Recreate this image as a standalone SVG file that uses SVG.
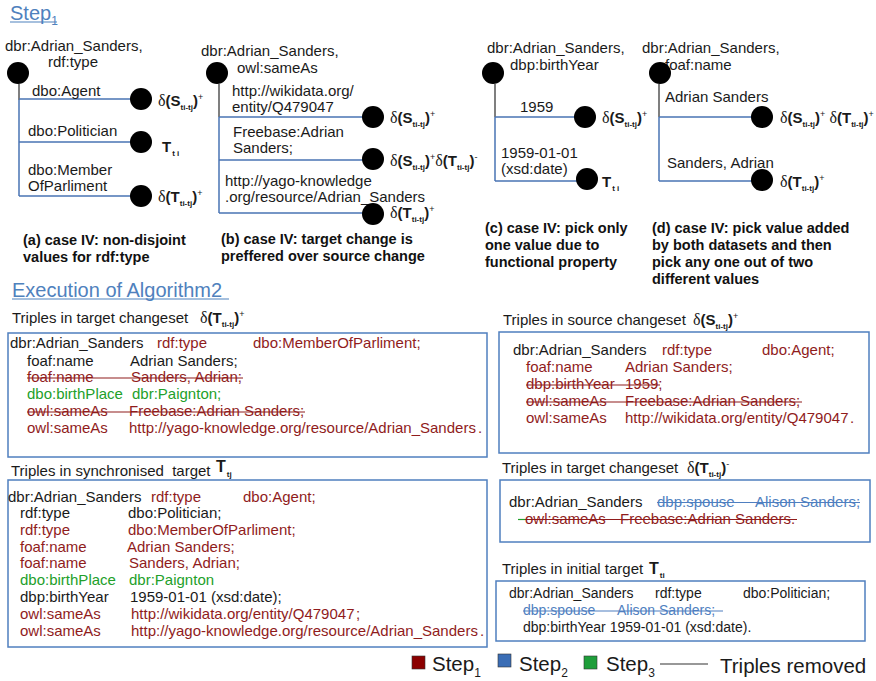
<svg xmlns="http://www.w3.org/2000/svg" width="876" height="681" viewBox="0 0 876 681">
<style>
text{font-family:"Liberation Sans",Arial,sans-serif;font-size:15px;fill:#1a1a1a}
.t14{font-size:14px}
.cap{font-weight:bold;font-size:14.5px;fill:#111}
.hd{fill:#4f81bd;font-size:20px}
.dg{font-family:"Liberation Serif","Times New Roman",serif;font-size:16px;font-weight:normal}
.b{font-weight:bold}
.sb{font-weight:bold;font-size:8px}
.sp{font-size:9px}
.r{fill:#901c1c}
.g{fill:#22a02a}
.bl{fill:#4f7fc0}
.box{fill:none;stroke:#4f7fbf;stroke-width:1.5}
.br{stroke:#4a74b4;stroke-width:1.5;fill:none}
.stem{stroke:#555;stroke-width:1.5;fill:none}
.dot{fill:#000}
.sr{stroke:#901c1c;stroke-width:1.2}
.sbl{stroke:#4f7fc0;stroke-width:1.2}
.leg{font-size:20.5px}
</style>

<!-- Titles -->
<g id="title-step1">
<text class="hd" x="10" y="20">Step<tspan font-size="12" dy="5">1</tspan></text>
<line x1="10" y1="22" x2="57" y2="22" stroke="#4f81bd" stroke-width="1.2"/>
</g>
<g id="title-exec">
<text class="hd" x="12" y="297">Execution of Algorithm2</text>
<line x1="12" y1="299" x2="229" y2="299" stroke="#4f81bd" stroke-width="1.2"/>
</g>

<!-- Connectors -->
<g id="connectors">
<path class="stem" d="M19,84 V100"/>
<path class="br" d="M19,100 V196 M19,99 H131 M19,142 H131 M19,196 H131"/>
<path class="stem" d="M219,84 V117"/>
<path class="br" d="M219,117 V213 M219,117 H363 M219,160 H363 M219,213 H363"/>
<path class="stem" d="M495,84 V117"/>
<path class="br" d="M495,117 V181 M495,117 H575 M495,181 H577"/>
<path class="stem" d="M659,84 V117"/>
<path class="br" d="M659,117 V181 M659,117 H752 M659,181 H752"/>
</g>

<!-- (a) -->
<g id="tree-a">
<text x="5" y="51">dbr:Adrian_Sanders,</text>
<text x="48" y="67">rdf:type</text>
<circle class="dot" cx="18" cy="73" r="11"/>
<text x="32" y="96">dbo:Agent</text>
<text x="28" y="136">dbo:Politician</text>
<text x="28" y="175">dbo:Member</text>
<text x="28" y="191">OfParliment</text>
</g>
<g id="a-leaf1"><circle class="dot" cx="141" cy="99" r="11"/>
<text x="158" y="106"><tspan class="dg">δ</tspan><tspan class="b">(S</tspan><tspan class="sb" dy="4">ti-tj</tspan><tspan class="b" dy="-4">)</tspan><tspan class="sp" dy="-6">+</tspan></text></g>
<g id="a-leaf2"><circle class="dot" cx="141" cy="142" r="11"/>
<text x="162" y="152"><tspan class="b">T</tspan><tspan class="sb" dy="4" dx="1">t i</tspan></text></g>
<g id="a-leaf3"><circle class="dot" cx="141" cy="196" r="11"/>
<text x="158" y="202"><tspan class="dg">δ</tspan><tspan class="b">(T</tspan><tspan class="sb" dy="4">ti-tj</tspan><tspan class="b" dy="-4">)</tspan><tspan class="sp" dy="-6">+</tspan></text></g>
<g id="caption-a">
<text class="cap" x="23" y="245">(a) case IV: non-disjoint</text>
<text class="cap" x="23" y="262">values for rdf:type</text>
</g>

<!-- (b) -->
<g id="tree-b">
<text x="201" y="56">dbr:Adrian_Sanders,</text>
<text x="237" y="73">owl:sameAs</text>
<circle class="dot" cx="217" cy="73" r="11"/>
<text x="232" y="96">http://wikidata.org/</text>
<text x="232" y="112">entity/Q479047</text>
<text x="233" y="137">Freebase:Adrian</text>
<text x="233" y="153">Sanders;</text>
<text x="225" y="186">http://yago-knowledge</text>
<text x="225" y="202">.org/resource/Adrian_Sanders</text>
</g>
<g id="b-leaf1"><circle class="dot" cx="373" cy="117" r="11"/>
<text x="390" y="123"><tspan class="dg">δ</tspan><tspan class="b">(S</tspan><tspan class="sb" dy="4">ti-tj</tspan><tspan class="b" dy="-4">)</tspan><tspan class="sp" dy="-6">+</tspan></text></g>
<g id="b-leaf2"><circle class="dot" cx="373" cy="159" r="11"/>
<text x="390" y="166"><tspan class="dg">δ</tspan><tspan class="b">(S</tspan><tspan class="sb" dy="4">ti-tj</tspan><tspan class="b" dy="-4">)</tspan><tspan class="sp" dy="-6">+</tspan><tspan class="dg" dy="6">δ</tspan><tspan class="b">(T</tspan><tspan class="sb" dy="4">ti-tj</tspan><tspan class="b" dy="-4">)</tspan><tspan class="sp" dy="-6">-</tspan></text></g>
<g id="b-leaf3"><circle class="dot" cx="373" cy="214" r="11"/>
<text x="390" y="218"><tspan class="dg">δ</tspan><tspan class="b">(T</tspan><tspan class="sb" dy="4">ti-tj</tspan><tspan class="b" dy="-4">)</tspan><tspan class="sp" dy="-6">+</tspan></text></g>
<g id="caption-b">
<text class="cap" x="221" y="244">(b) case IV: target change is</text>
<text class="cap" x="221" y="261">preffered over source change</text>
</g>

<!-- (c) -->
<g id="tree-c">
<text x="487" y="53">dbr:Adrian_Sanders,</text>
<text x="510" y="70">dbp:birthYear</text>
<circle class="dot" cx="493" cy="73" r="11"/>
<text x="520" y="112">1959</text>
<text x="501" y="158">1959-01-01</text>
<text x="501" y="174">(xsd:date)</text>
</g>
<g id="c-leaf1"><circle class="dot" cx="585" cy="117" r="11"/>
<text x="602" y="123"><tspan class="dg">δ</tspan><tspan class="b">(S</tspan><tspan class="sb" dy="4">ti-tj</tspan><tspan class="b" dy="-4">)</tspan><tspan class="sp" dy="-6">+</tspan></text></g>
<g id="c-leaf2"><circle class="dot" cx="587" cy="179" r="11"/>
<text x="602" y="187"><tspan class="b">T</tspan><tspan class="sb" dy="4" dx="1">t i</tspan></text></g>
<g id="caption-c">
<text class="cap" x="485" y="233">(c) case IV: pick only</text>
<text class="cap" x="485" y="250">one value due to</text>
<text class="cap" x="485" y="267">functional property</text>
</g>

<!-- (d) -->
<g id="tree-d">
<text x="642" y="53">dbr:Adrian_Sanders,</text>
<text x="665" y="70">foaf:name</text>
<circle class="dot" cx="660" cy="73" r="11"/>
<text x="665" y="102">Adrian Sanders</text>
<text x="667" y="168">Sanders, Adrian</text>
</g>
<g id="d-leaf1"><circle class="dot" cx="762" cy="117" r="11"/>
<text x="780" y="123"><tspan class="dg">δ</tspan><tspan class="b">(S</tspan><tspan class="sb" dy="4">ti-tj</tspan><tspan class="b" dy="-4">)</tspan><tspan class="sp" dy="-6">+</tspan><tspan dy="6"> </tspan><tspan class="dg">δ</tspan><tspan class="b">(T</tspan><tspan class="sb" dy="4">ti-tj</tspan><tspan class="b" dy="-4">)</tspan><tspan class="sp" dy="-6">+</tspan></text></g>
<g id="d-leaf2"><circle class="dot" cx="762" cy="180" r="11"/>
<text x="780" y="187"><tspan class="dg">δ</tspan><tspan class="b">(T</tspan><tspan class="sb" dy="4">ti-tj</tspan><tspan class="b" dy="-4">)</tspan><tspan class="sp" dy="-6">+</tspan></text></g>
<g id="caption-d">
<text class="cap" x="652" y="233">(d) case IV: pick value added</text>
<text class="cap" x="652" y="250">by both datasets and then</text>
<text class="cap" x="652" y="267">pick any one out of two</text>
<text class="cap" x="652" y="284">different values</text>
</g>

<!-- Box: target changeset + -->
<g id="box-target-plus">
<text x="12" y="323">Triples in target changeset</text>
<text x="200" y="323"><tspan class="dg">δ</tspan><tspan class="b">(T</tspan><tspan class="sb" dy="4">ti-tj</tspan><tspan class="b" dy="-4">)</tspan><tspan class="sp" dy="-6">+</tspan></text>
<rect class="box" x="8" y="333" width="479" height="124"/>
<text x="10" y="348">dbr:Adrian_Sanders</text><text class="r" x="157" y="348">rdf:type</text><text class="r" x="253" y="348">dbo:MemberOfParliment;</text>
<text x="27" y="366">foaf:name</text><text x="130" y="366">Adrian Sanders;</text>
<text class="r" x="27" y="382">foaf:name</text><text class="r" x="131" y="382">Sanders, Adrian;</text>
<line class="sr" x1="27" y1="378" x2="243" y2="378"/>
<text class="g" x="27" y="399">dbo:birthPlace</text><text class="g" x="132" y="399">dbr:Paignton;</text>
<text class="r" x="27" y="416">owl:sameAs</text><text class="r" x="129" y="416">Freebase:Adrian Sanders;</text>
<line class="sr" x1="27" y1="412" x2="305" y2="412"/>
<text class="r" x="27" y="433">owl:sameAs</text><text class="r" x="129" y="433">http://yago-knowledge.org/resource/Adrian_Sanders</text><text class="r" x="478" y="433">.</text>
</g>

<!-- Box: synchronised target -->
<g id="box-sync">
<text x="11" y="476">Triples in synchronised&#160; target</text>
<text x="216" y="472"><tspan class="b" font-size="16">T</tspan><tspan class="sb" dy="5" dx="1">tj</tspan></text>
<rect class="box" x="8" y="480" width="479" height="167"/>
<text x="8" y="502">dbr:Adrian_Sanders</text><text class="r" x="151" y="502">rdf:type</text><text class="r" x="243" y="502">dbo:Agent;</text>
<text x="20" y="518">rdf:type</text><text x="128" y="518">dbo:Politician;</text>
<text class="r" x="20" y="535">rdf:type</text><text class="r" x="128" y="535">dbo:MemberOfParliment;</text>
<text class="r" x="20" y="552">foaf:name</text><text class="r" x="127" y="552">Adrian Sanders;</text>
<text class="r" x="20" y="568">foaf:name</text><text class="r" x="129" y="568">Sanders, Adrian;</text>
<text class="g" x="20" y="585">dbo:birthPlace</text><text class="g" x="129" y="585">dbr:Paignton</text>
<text x="20" y="602">dbp:birthYear</text><text x="130" y="602">1959-01-01 (xsd:date);</text>
<text class="r" x="20" y="619">owl:sameAs</text><text class="r" x="131" y="619">http://wikidata.org/entity/Q479047</text><text class="r" x="356" y="619">;</text>
<text class="r" x="20" y="636">owl:sameAs</text><text class="r" x="131" y="636">http://yago-knowledge.org/resource/Adrian_Sanders</text><text class="r" x="480" y="636">.</text>
</g>

<!-- Box: source changeset + -->
<g id="box-source-plus">
<text x="503" y="325">Triples in source changeset</text>
<text x="693" y="325"><tspan class="dg">δ</tspan><tspan class="b">(S</tspan><tspan class="sb" dy="4">ti-tj</tspan><tspan class="b" dy="-4">)</tspan><tspan class="sp" dy="-6">+</tspan></text>
<rect class="box" x="499" y="332" width="370" height="121"/>
<text x="513" y="355">dbr:Adrian_Sanders</text><text class="r" x="662" y="355">rdf:type</text><text class="r" x="762" y="355">dbo:Agent;</text>
<text class="r" x="526" y="372">foaf:name</text><text class="r" x="625" y="372">Adrian Sanders;</text>
<text class="r" x="526" y="389">dbp:birthYear</text><text class="r" x="625" y="389">1959;</text>
<line class="sr" x1="526" y1="385" x2="660" y2="385"/>
<text class="r" x="526" y="406">owl:sameAs</text><text class="r" x="625" y="406">Freebase:Adrian Sanders;</text>
<line class="sr" x1="526" y1="402" x2="802" y2="402"/>
<text class="r" x="526" y="423">owl:sameAs</text><text class="r" x="625" y="423">http://wikidata.org/entity/Q479047</text><text class="r" x="850" y="423">.</text>
</g>

<!-- Box: target changeset - -->
<g id="box-target-minus">
<text x="502" y="473">Triples in target changeset</text>
<text x="687" y="473"><tspan class="dg">δ</tspan><tspan class="b">(T</tspan><tspan class="sb" dy="4">ti-tj</tspan><tspan class="b" dy="-4">)</tspan><tspan class="sp" dy="-6">-</tspan></text>
<rect class="box" x="500" y="480" width="370" height="62"/>
<text x="509" y="507">dbr:Adrian_Sanders</text><text class="bl" x="657" y="507">dbp:spouse</text><text class="bl" x="755" y="507">Alison Sanders;</text>
<line class="sbl" x1="657" y1="502.5" x2="860" y2="502.5"/>
<text class="r" x="525" y="524">owl:sameAs</text><text class="r" x="620" y="524">Freebase:Adrian Sanders.</text>
<line x1="518" y1="519.5" x2="525" y2="519.5" stroke="#22a02a" stroke-width="1.2"/>
<line class="sr" x1="525" y1="519.5" x2="797" y2="519.5"/>
</g>

<!-- Box: initial target -->
<g id="box-initial">
<text x="502" y="574">Triples in initial target</text>
<text x="649" y="574"><tspan class="b" font-size="16">T</tspan><tspan class="sb" dy="4" dx="1">ti</tspan></text>
<rect class="box" x="496" y="581" width="369" height="60"/>
<text class="t14" x="509" y="598">dbr:Adrian_Sanders</text><text class="t14" x="655" y="598">rdf:type</text><text class="t14" x="743" y="598">dbo:Politician;</text>
<text class="t14 bl" x="523" y="615">dbp:spouse</text><text class="t14 bl" x="617" y="615">Alison Sanders;</text>
<line class="sbl" x1="523" y1="611" x2="723" y2="611"/>
<text class="t14" x="523" y="632">dbp:birthYear 1959-01-01 (xsd:date).</text>
</g>

<!-- Legend -->
<g id="legend">
<rect x="412" y="656" width="13" height="13" fill="#8b0000" stroke="#333" stroke-width="0.6"/>
<text class="leg" x="432" y="671">Step<tspan font-size="12" dy="6">1</tspan></text>
<rect x="498" y="654" width="13" height="13" fill="#3a6db5" stroke="#333" stroke-width="0.6"/>
<text class="leg" x="519" y="671">Step<tspan font-size="12" dy="6">2</tspan></text>
<rect x="584" y="656" width="13" height="13" fill="#1e9e3a" stroke="#333" stroke-width="0.6"/>
<text class="leg" x="606" y="671">Step<tspan font-size="12" dy="6">3</tspan></text>
<line x1="660" y1="664" x2="708" y2="664" stroke="#333" stroke-width="1.2"/>
<text class="leg" x="720" y="673">Triples removed</text>
</g>
</svg>
